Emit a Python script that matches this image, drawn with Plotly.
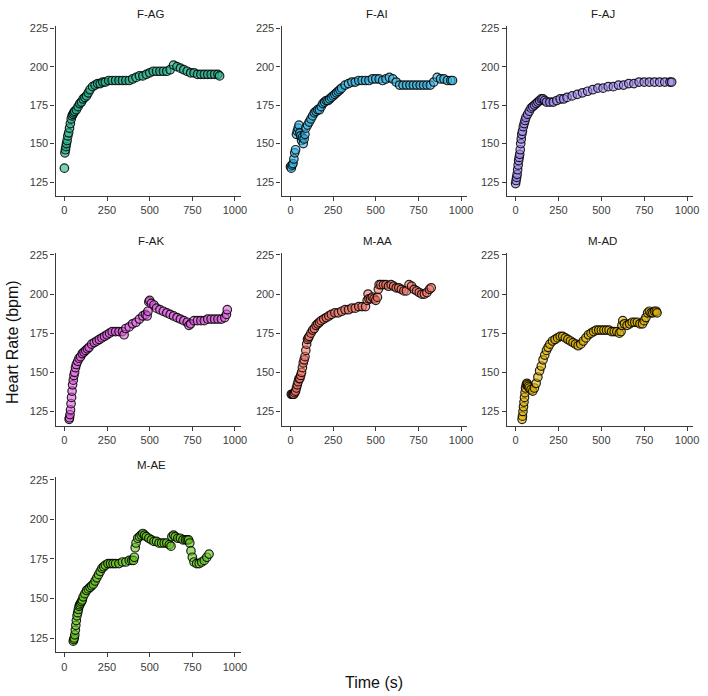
import plotly.graph_objects as go

W, H = 708, 696

panels = ["F-AG", "F-AI", "F-AJ", "F-AK", "M-AA", "M-AD", "M-AE"]
colors = ["#22b08c", "#35b4e2", "#9c86ee", "#e05ce0", "#f07262", "#ddb000", "#66c61e"]

f_ag = [(0,134),(3,144),(6,146),(9,148),(12,150),(16,152),(20,155),(25,157),(30,160),(35,163),
        (40,166),(45,168),(50,169),(55,170),(60,171),(70,172),(80,174),(90,176),(100,177),(110,179),
        (120,180),(130,181),(140,183),(150,185),(165,187),(180,188),(195,189),(210,189),(225,190),(240,190),
        (260,191),(280,191),(300,191),(320,191),(340,191),(360,191),(380,191),(400,192),(420,193),(440,194),
        (460,194),(480,195),(500,196),(520,197),(540,197),(560,197),(580,197),(600,197),(620,198),(640,201),
        (660,200),(680,199),(700,198),(720,197),(740,196),(760,196),(780,195),(800,195),(820,195),(840,195),
        (860,195),(880,195),(900,195),(910,194)]

f_ai = [(0,135),(5,134),(10,136),(15,137),(20,140),(25,144),(30,146),(35,156),(40,158),(45,160),
        (50,162),(55,157),(60,155),(65,152),(70,154),(75,150),(80,153),(85,156),(90,160),(100,162),
        (110,164),(120,166),(130,168),(140,170),(150,171),(160,172),(170,172),(180,174),(190,176),(200,177),
        (210,178),(220,178),(230,179),(240,180),(250,181),(260,182),(270,183),(280,184),(290,185),(300,186),
        (320,188),(340,189),(360,190),(380,190),(400,191),(420,191),(440,191),(460,191),(480,192),(500,192),
        (520,192),(540,191),(560,192),(580,193),(600,192),(620,190),(640,188),(660,188),(680,188),(700,188),
        (720,188),(740,188),(760,188),(780,188),(800,188),(820,188),(840,190),(860,193),(880,192),(900,192),
        (920,191),(940,191),(950,191)]

f_aj = [(0,124),(3,126),(6,128),(9,130),(12,133),(15,136),(18,139),(21,141),(24,143),(27,146),
        (30,150),(33,153),(36,156),(40,158),(45,161),(50,163),(55,165),(60,167),(70,169),(80,171),
        (90,173),(100,174),(110,175),(120,176),(130,177),(140,178),(150,179),(160,179),(170,178),(180,177),
        (200,177),(220,177),(240,178),(260,179),(280,179),(300,180),(330,181),(360,182),(390,183),(420,184),
        (450,185),(480,186),(510,186),(540,187),(570,187),(600,188),(630,188),(660,189),(690,189),(720,190),
        (750,190),(780,190),(810,190),(840,190),(870,190),(900,190),(910,190)]

f_ak = [(28,120),(30,121),(33,123),(36,126),(39,130),(42,134),(45,138),(48,142),(52,145),(56,148),
        (60,150),(65,153),(70,155),(78,157),(86,159),(95,160),(105,162),(115,163),(125,164),(135,165),
        (145,166),(160,168),(175,169),(190,170),(205,171),(220,172),(235,173),(250,174),(265,175),(280,176),
        (300,176),(320,176),(340,176),(350,174),(360,178),(380,179),(400,181),(420,182),(440,184),(460,186),
        (475,187),(485,186),(490,189),(495,195),(500,196),(510,194),(525,193),(540,191),(560,190),(580,189),
        (600,188),(620,187),(640,186),(660,185),(680,184),(700,183),(720,182),(730,180),(740,181),(760,183),
        (780,183),(800,183),(820,183),(840,184),(860,184),(880,184),(900,184),(920,184),(940,185),(950,187),
        (955,190)]

m_aa = [(5,136),(10,136),(15,136),(20,136),(25,137),(30,138),(35,140),(40,142),(45,144),(50,146),
        (55,146),(60,148),(65,150),(70,153),(75,156),(80,158),(85,160),(90,164),(95,168),(100,171),
        (105,172),(110,173),(120,175),(130,177),(140,178),(150,180),(160,181),(170,182),(180,183),(195,184),
        (210,185),(225,186),(240,187),(260,188),(280,188),(300,189),(320,190),(340,190),(360,191),(380,191),
        (400,192),(420,192),(440,192),(450,196),(455,200),(460,197),(470,197),(480,198),(490,197),(500,196),
        (510,198),(515,203),(520,206),(530,206),(545,206),(560,206),(575,205),(590,206),(605,205),(620,204),
        (635,204),(650,203),(665,202),(680,202),(695,206),(710,205),(725,203),(740,202),(755,201),(770,200),
        (785,200),(800,201),(815,203),(825,204)]

m_ad = [(38,120),(40,122),(43,125),(46,128),(49,131),(52,134),(55,137),(58,140),(62,142),(66,143),
        (70,142),(75,141),(80,140),(90,139),(100,138),(110,140),(120,143),(130,147),(140,151),(150,154),
        (160,158),(170,161),(180,164),(190,166),(200,168),(215,170),(230,171),(245,172),(260,173),(275,173),
        (290,172),(305,171),(320,170),(335,169),(350,168),(365,167),(380,168),(395,170),(410,172),(425,174),
        (440,175),(455,176),(470,177),(485,177),(500,177),(515,177),(530,177),(545,177),(560,176),(575,176),
        (590,176),(605,175),(615,176),(620,180),(625,183),(635,181),(650,180),(665,181),(680,182),(695,182),
        (710,182),(725,181),(740,181),(750,183),(760,185),(770,188),(780,189),(790,188),(800,188),(810,189),
        (820,189),(825,188)]

m_ae = [(52,123),(55,124),(58,125),(61,127),(64,130),(67,133),(70,136),(74,139),(78,141),(82,143),
        (86,145),(90,146),(95,147),(100,148),(105,149),(110,151),(120,153),(130,155),(140,156),(150,157),
        (160,158),(170,159),(180,161),(190,163),(200,165),(210,167),(220,169),(230,170),(240,171),(255,172),
        (270,172),(285,172),(300,172),(320,172),(340,173),(360,173),(380,174),(395,174),(405,174),(410,176),
        (415,182),(420,185),(430,188),(440,189),(450,190),(460,191),(470,190),(480,189),(495,188),(510,187),
        (525,186),(540,186),(555,185),(570,185),(585,185),(600,185),(615,184),(625,183),(630,189),(640,190),
        (650,189),(665,188),(680,188),(695,187),(710,187),(720,187),(728,187),(735,185),(742,180),(750,176),
        (760,173),(775,172),(790,172),(805,173),(820,174),(835,176),(848,178)]

series = [f_ag, f_ai, f_aj, f_ak, m_aa, m_ad, m_ae]

x_ticks = [0, 250, 500, 750, 1000]
y_ticks = [125, 150, 175, 200, 225]
x_range = [-52, 1035]
y_range = [116, 226.5]

# panel boxes in pixels (left, right, top, bottom)
col_px = [(56, 243), (284, 471), (511, 699)]
row_px = [(22, 193), (250, 424), (476, 652)]

def hex_rgba(h, a):
    h = h.lstrip("#")
    return "rgba(%d,%d,%d,%.2f)" % (int(h[0:2], 16), int(h[2:4], 16), int(h[4:6], 16), a)

fig = go.Figure()
layout = {}
annotations = []
for i, (name, data, col) in enumerate(zip(panels, series, colors)):
    r, c = divmod(i, 3)
    n = i + 1
    xa = "xaxis" if n == 1 else "xaxis%d" % n
    ya = "yaxis" if n == 1 else "yaxis%d" % n
    xref = "x" if n == 1 else "x%d" % n
    yref = "y" if n == 1 else "y%d" % n
    l, rr = col_px[c]
    t, b = row_px[r]
    axis_common = dict(
        showgrid=False, zeroline=False, showline=True, linecolor="#3a3a3a", linewidth=1.3,
        ticks="outside", ticklen=4, tickcolor="#3a3a3a", tickwidth=1.2,
        tickfont=dict(family="Liberation Sans, Arial", size=11, color="#3c3c3c"),
    )
    layout[xa] = dict(axis_common, domain=[l / W, rr / W], range=x_range, tickvals=x_ticks,
                      anchor=yref)
    layout[ya] = dict(axis_common, domain=[1 - b / H, 1 - t / H], range=y_range, tickvals=y_ticks,
                      anchor=xref)
    xs = [p[0] for p in data]
    ys = [p[1] for p in data]
    fig.add_trace(go.Scatter(
        x=xs, y=ys, mode="markers", xaxis=xref, yaxis=yref, showlegend=False,
        marker=dict(size=8.5, color=hex_rgba(col, 0.6),
                    line=dict(color="rgba(0,0,0,0.85)", width=1.2)),
    ))
    annotations.append(dict(
        text=name, x=(l + rr) / 2 / W + 0.004, y=1 - (t - 12) / H, xref="paper", yref="paper",
        showarrow=False, xanchor="center", yanchor="middle",
        font=dict(family="Liberation Sans, Arial", size=11.5, color="#1a1a1a"),
    ))

annotations.append(dict(
    text="Time (s)", x=377 / W, y=1 - 682 / H, xref="paper", yref="paper", showarrow=False,
    xanchor="center", yanchor="middle", font=dict(family="Liberation Sans, Arial", size=16, color="#111111"),
))
annotations.append(dict(
    text="Heart Rate (bpm)", x=12 / W, y=1 - 340 / H, xref="paper", yref="paper", showarrow=False,
    textangle=-90, xanchor="center", yanchor="middle",
    font=dict(family="Liberation Sans, Arial", size=16, color="#111111"),
))

fig.update_layout(
    width=W, height=H, margin=dict(l=0, r=0, t=0, b=0),
    paper_bgcolor="white", plot_bgcolor="white",
    annotations=annotations, **layout,
)

fig.write_html("out.html", config={"displayModeBar": False},
               post_script="document.body.style.margin='0';document.body.style.padding='0';")
